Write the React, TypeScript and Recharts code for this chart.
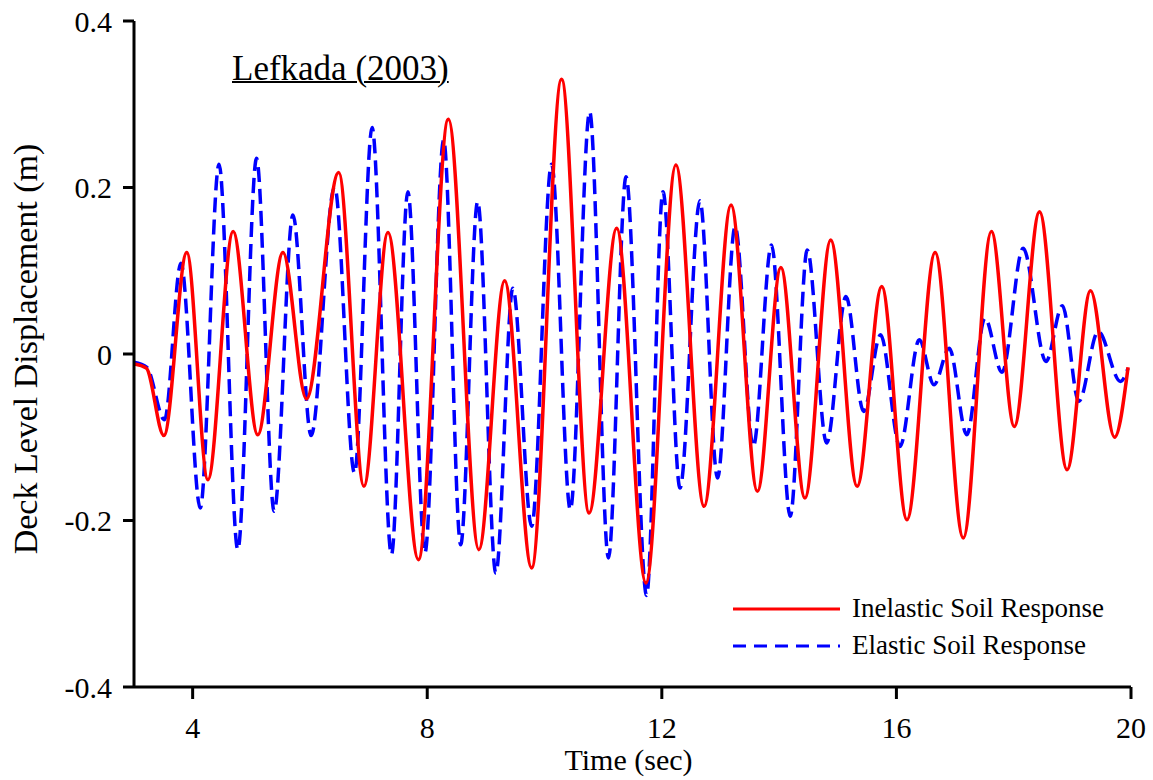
import { Legend, Line, LineChart, XAxis, YAxis } from 'recharts';

const FONT = 'Liberation Serif, Times New Roman, serif';

// peaks and troughs (time in sec, displacement in m)
const inelasticTime = [
  3.0, 3.21, 3.51, 3.9, 4.26, 4.69, 5.11, 5.54, 5.94, 6.49, 6.92, 7.33, 7.85, 8.36, 8.88, 9.32, 9.78, 10.29,
  10.76, 11.23, 11.73, 12.24, 12.72, 13.18, 13.63, 14.03, 14.44, 14.88, 15.33, 15.75, 16.18, 16.66, 17.14,
  17.62, 18.01, 18.44, 18.91, 19.31, 19.72, 19.95,
];
const inelasticDisp = [
  -0.012, -0.017, -0.098, 0.122, -0.151, 0.147, -0.097, 0.122, -0.054, 0.218, -0.159, 0.146, -0.247, 0.282,
  -0.235, 0.088, -0.257, 0.33, -0.191, 0.151, -0.275, 0.227, -0.183, 0.179, -0.165, 0.104, -0.173, 0.137,
  -0.159, 0.081, -0.199, 0.122, -0.221, 0.147, -0.087, 0.171, -0.139, 0.076, -0.1, -0.016,
];

const elasticTime = [
  3.0, 3.22, 3.52, 3.8, 4.13, 4.45, 4.77, 5.09, 5.39, 5.71, 6.02, 6.42, 6.76, 7.06, 7.39, 7.67, 7.96, 8.28, 8.57,
  8.86, 9.17, 9.46, 9.78, 10.12, 10.44, 10.77, 11.09, 11.39, 11.74, 12.02, 12.31, 12.65, 12.95, 13.25, 13.56,
  13.87, 14.19, 14.48, 14.81, 15.14, 15.44, 15.73, 16.06, 16.39, 16.64, 16.9, 17.2, 17.51, 17.8, 18.16, 18.55,
  18.83, 19.11, 19.44, 19.82, 19.95,
];
const elasticDisp = [
  -0.01, -0.016, -0.079, 0.109, -0.185, 0.228, -0.235, 0.235, -0.189, 0.167, -0.098, 0.201, -0.143, 0.272, -0.241,
  0.195, -0.239, 0.257, -0.229, 0.183, -0.263, 0.079, -0.207, 0.228, -0.187, 0.291, -0.245, 0.213, -0.29,
  0.195, -0.161, 0.184, -0.149, 0.153, -0.111, 0.131, -0.195, 0.125, -0.107, 0.069, -0.069, 0.023, -0.111,
  0.017, -0.037, 0.007, -0.097, 0.043, -0.022, 0.127, -0.009, 0.058, -0.057, 0.027, -0.033, -0.017,
];

const timeTicks = [4, 8, 12, 16, 20];
const dispTicks = [-0.4, -0.2, 0, 0.2, 0.4];

const seriesNames = ['Inelastic Soil Response', 'Elastic Soil Response'];

function toPoints(time: number[], disp: number[]) {
  return time.map((t, i) => ({ t, d: disp[i] }));
}

const inelasticData = toPoints(inelasticTime, inelasticDisp);
const elasticData = toPoints(elasticTime, elasticDisp);

function formatDisp(v: number) {
  return v === 0 ? '0' : String(v);
}

// recharts hands us the tick position, we only pin the serif font on it
function TimeTick(props: any) {
  const { x, y, payload } = props;
  return (
    <text x={x} y={y} dy="0.71em" textAnchor="middle" fontFamily={FONT} fontSize={30} fill="#000">
      {payload.value}
    </text>
  );
}

function DispTick(props: any) {
  const { x, y, payload } = props;
  return (
    <text x={x} y={y} dy="0.355em" textAnchor="end" fontFamily={FONT} fontSize={30} fill="#000">
      {formatDisp(payload.value)}
    </text>
  );
}

function SeriesLegend() {
  const rows = [
    { name: seriesNames[0], color: '#ff0000', dash: undefined },
    { name: seriesNames[1], color: '#0000ff', dash: '13 8' },
  ];
  return (
    <div style={{ fontFamily: FONT, fontSize: 27, color: '#000' }}>
      {rows.map((row) => (
        <div key={row.name} style={{ display: 'flex', alignItems: 'center', height: 37 }}>
          <svg width={107} height={6} style={{ display: 'block' }}>
            <line x1={0} y1={3} x2={107} y2={3} stroke={row.color} strokeWidth={3} strokeDasharray={row.dash} />
          </svg>
          <span style={{ marginLeft: 12, whiteSpace: 'nowrap' }}>{row.name}</span>
        </div>
      ))}
    </div>
  );
}

export default function App() {
  const axisStroke = { stroke: '#000', strokeWidth: 3 };

  return (
    <div
      style={{
        position: 'absolute',
        left: 0,
        top: 0,
        width: 1153,
        height: 780,
        background: '#fff',
        fontFamily: FONT,
      }}
    >
      <LineChart width={1153} height={780} margin={{ top: 21, right: 22, bottom: 10, left: 0 }}>
        <XAxis
          type="number"
          dataKey="t"
          domain={[3, 20]}
          ticks={timeTicks}
          allowDataOverflow
          height={83}
          tickSize={12}
          tickMargin={18}
          tick={<TimeTick />}
          axisLine={axisStroke}
          tickLine={axisStroke}
          label={{ value: 'Time (sec)', position: 'insideBottom', offset: 0, fontSize: 30, fill: '#000', dx: -4 }}
        />
        <YAxis
          type="number"
          domain={[-0.4, 0.4]}
          ticks={dispTicks}
          allowDataOverflow
          width={134}
          tickSize={11}
          tickMargin={11}
          tick={<DispTick />}
          axisLine={axisStroke}
          tickLine={axisStroke}
          label={{
            value: 'Deck Level Displacement (m)',
            angle: -90,
            position: 'insideLeft',
            offset: 25,
            dy: -5,
            fontSize: 34,
            fill: '#000',
            style: { textAnchor: 'middle' },
          }}
        />
        <Legend
          content={() => <SeriesLegend />}
          layout="horizontal"
          verticalAlign="middle"
          align="center"
          wrapperStyle={{ left: 733, top: 590, width: 420 }}
        />
        <Line
          data={elasticData}
          dataKey="d"
          name={seriesNames[1]}
          type="monotone"
          stroke="#0000ff"
          strokeWidth={3.5}
          strokeDasharray="15 7"
          dot={false}
          isAnimationActive={false}
        />
        <Line
          data={inelasticData}
          dataKey="d"
          name={seriesNames[0]}
          type="monotone"
          stroke="#ff0000"
          strokeWidth={3.5}
          dot={false}
          isAnimationActive={false}
        />
      </LineChart>
      <div
        style={{
          position: 'absolute',
          left: 232,
          top: 51,
          fontFamily: FONT,
          fontSize: 35,
          lineHeight: 1,
          color: '#000',
          textDecoration: 'underline',
          textDecorationThickness: 2,
          whiteSpace: 'pre',
        }}
      >
        Lefkada (2003)
      </div>
    </div>
  );
}
